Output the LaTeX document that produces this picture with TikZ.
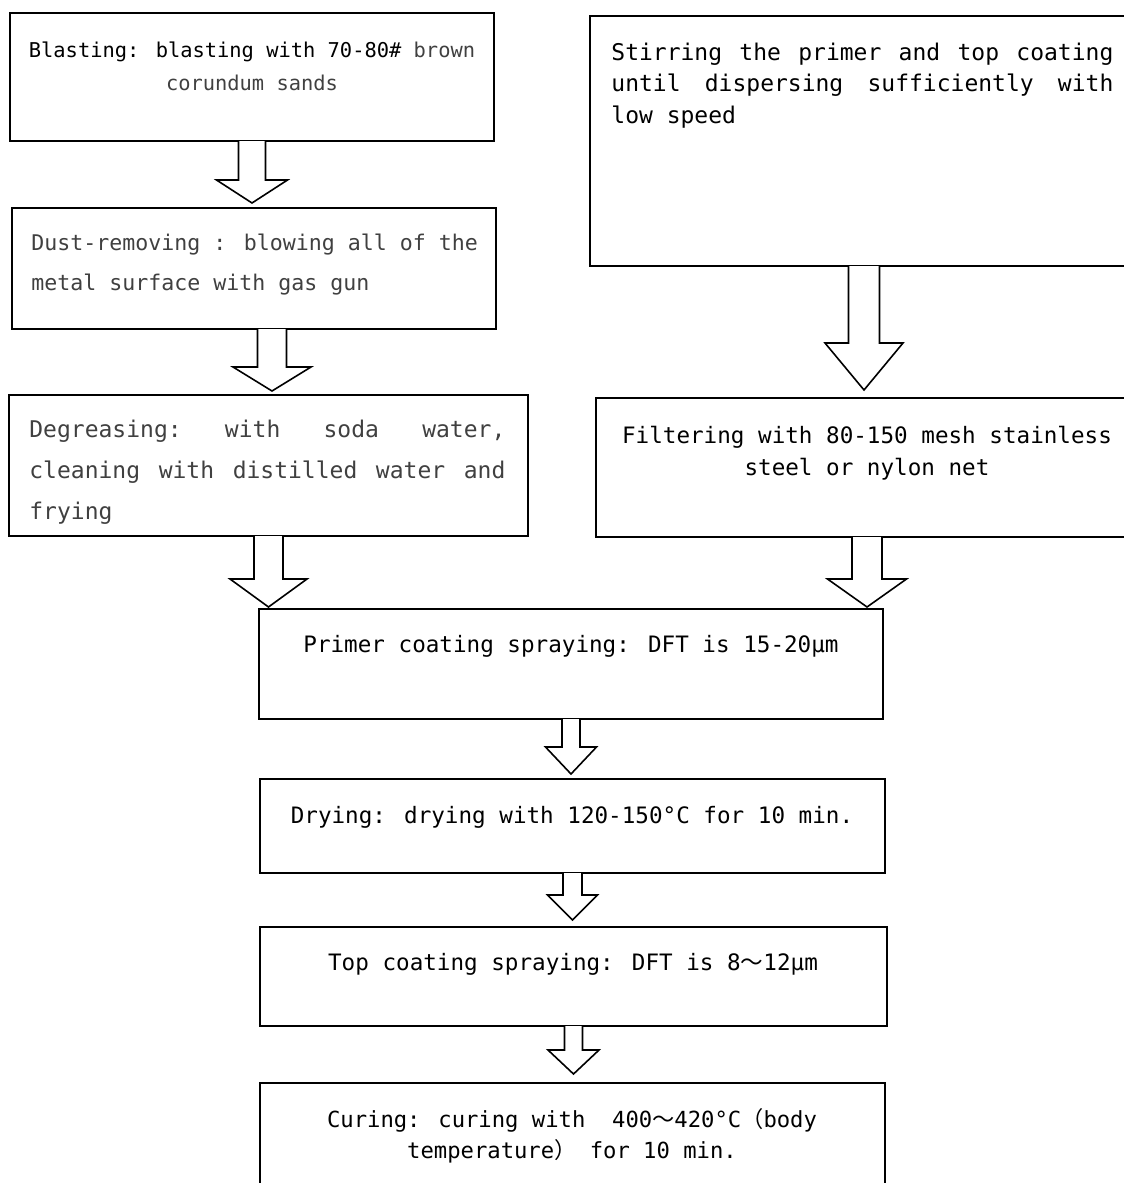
\documentclass[tikz,border=0pt]{standalone}
\usepackage{fontspec}
\usepackage{tikz}
\usetikzlibrary{calc,fit}
\newfontfamily\flowfont{DejaVu Sans Mono}
\newfontfamily\cjk{Noto Sans CJK SC}
\definecolor{txtgray}{RGB}{64,64,64}
\newcommand{\fw}[1]{{\cjk #1}}
\newcommand{\setflow}[2]{\flowfont\fontsize{#1}{#2}\selectfont
  \fontdimen2\font=\fontcharwd\font`a\fontdimen3\font=0pt\fontdimen4\font=0pt}
% hollow block arrow: from, target, gap, shaft, head, head length (px)
\newcommand{\blockarrow}[6]{%
  \filldraw[flowarrow] let \p1=(#1), \p2=($(#2)+(0,-#3)$) in
    (\x1-#4*0.5pt,\y1+0.5pt) -- (\x1-#4*0.5pt,\y2+#6*0.5pt) -- (\x1-#5*0.5pt,\y2+#6*0.5pt)
    -- (\x1,\y2) -- (\x1+#5*0.5pt,\y2+#6*0.5pt) -- (\x1+#4*0.5pt,\y2+#6*0.5pt) -- (\x1+#4*0.5pt,\y1+0.5pt);}

\begin{document}
\begin{tikzpicture}[x=0.5pt,y=-0.5pt,
    box/.style={draw,line width=1pt,inner sep=0pt},
    txt/.style={inner sep=0pt,font={\setflow{11.3}{16}},
      execute at begin node={\spaceskip=0pt\xspaceskip=0pt}},
    jtxt/.style={txt,align=justify,anchor=base west,
      execute at begin node={\spaceskip=\fontdimen2\font plus 4pt\xspaceskip=\spaceskip}},
    flowarrow/.style={draw=black,fill=white,line width=0.8pt,line join=miter}]
  \useasboundingbox (0,0) rectangle (1124,1183);
  \clip (0,0) rectangle (1124,1183);
  % boxes
  \node[box,fit={(10,13) (494,141)}] (blast) {};
  \node[box,fit={(12,208) (496,329)}] (dust) {};
  \node[box,fit={(9,395) (528,536)}] (deg) {};
  \node[box,fit={(590,16) (1138,266)}] (stir) {};
  \node[box,fit={(596,398) (1138,537)}] (filt) {};
  \node[box,fit={(259,609) (883,719)}] (primer) {};
  \node[box,fit={(260,779) (885,873)}] (dry) {};
  \node[box,fit={(260,927) (887,1026)}] (topc) {};
  \node[box,fit={(260,1083) (885,1200)}] (cure) {};
  % texts
  \node[txt,anchor=base,text width=242pt,align=center,font={\setflow{10.2}{16.5}}] (blast-t) at (252,57)
    {Blasting: blasting with 70-80\# {\color{txtgray}brown}\\ {\color{txtgray}corundum sands}};
  \node[txt,anchor=base west,text width=232pt,align=left,text=txtgray,font={\setflow{10.8}{20}}] (dust-t) at (31,250)
    {Dust-removing : blowing all of the\\ metal surface with gas gun};
  \node[jtxt,text width=238pt,text=txtgray,font={\setflow{11.5}{20.5}}] (deg-t) at (29,437)
    {Degreasing: with soda water,\linebreak cleaning with distilled water and\linebreak frying};
  \node[jtxt,text width=251pt,font={\setflow{11.5}{16}}] (stir-t) at (611,60)
    {Stirring the primer and top coating\linebreak until dispersing sufficiently with\linebreak low speed};
  \node[txt,anchor=base,text width=270pt,align=center] (filt-t) at (867,443)
    {Filtering with 80-150 mesh stainless\\ steel or nylon net};
  \node[txt,anchor=base,text width=300pt,align=center] (primer-t) at (571,652)
    {Primer coating spraying: DFT is 15-20μm};
  \node[txt,anchor=base,text width=300pt,align=center] (dry-t) at (572,823)
    {Drying: drying with 120-150°C for 10 min.};
  \node[txt,anchor=base,text width=300pt,align=center] (topc-t) at (573,970)
    {Top coating spraying: DFT is 8\fw{～}12μm};
  \node[txt,anchor=base,text width=300pt,align=center,font={\setflow{11.1}{15.5}}] (cure-t) at (572,1127)
    {Curing: curing with\ \ 400\fw{～}420°C\fw{（}body\\ temperature\fw{）} for 10 min.};
  % arrows
  \blockarrow{blast.south}{dust.north}{4}{13.5}{35.5}{23}
  \blockarrow{$(dust.south)+(18,0)$}{deg.north}{3}{14.5}{39}{24}
  \blockarrow{stir.south}{filt.north}{7}{15.5}{39}{47}
  \blockarrow{deg.south}{primer.north}{1}{14.5}{38.5}{28}
  \blockarrow{filt.south}{primer.north}{1}{15}{39.5}{28}
  \blockarrow{primer.south}{dry.north}{4}{9}{25.5}{27}
  \blockarrow{dry.south}{topc.north}{6}{9.5}{25}{25}
  \blockarrow{topc.south}{cure.north}{8}{9}{25.5}{24}
\end{tikzpicture}
\end{document}
